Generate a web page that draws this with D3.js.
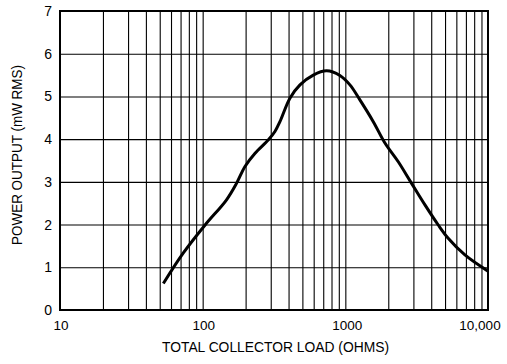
<!DOCTYPE html>
<html><head><meta charset="utf-8">
<script src="https://cdn.jsdelivr.net/npm/d3@7"></script>
<style>body{margin:0;background:#fff}svg{display:block}text{font-family:"Liberation Sans",Arial,sans-serif;fill:#000}</style>
</head><body><svg id="c" width="507" height="364"></svg>
<script>
const loadOhms = [53, 73, 104, 147, 173, 198, 233, 288, 321, 348, 409, 481, 596, 740, 916, 1077, 1265, 1570, 1895, 2350, 2870, 3615, 4480, 5260, 6890, 10000];
const powerMw  = [0.62, 1.33, 1.99, 2.58, 2.97, 3.36, 3.67, 3.98, 4.18, 4.41, 4.96, 5.27, 5.50, 5.60, 5.49, 5.27, 4.92, 4.41, 3.91, 3.47, 3.0, 2.46, 1.99, 1.68, 1.29, 0.91];
const yTicks = [0, 1, 2, 3, 4, 5, 6, 7];
const xTickValues = [10, 100, 1000, 10000];
const xTickLabels = ["10", "100", "1000", "10,000"];
const xTitle = "TOTAL COLLECTOR LOAD (OHMS)";
const yTitle = "POWER OUTPUT (mW RMS)";

const svg = d3.select("#c");
const L = 60, R = 488, T = 11, B = 310;
const x = d3.scaleLog().domain([10, 10000]).range([L, R]);
const y = d3.scaleLinear().domain([0, 7]).range([B, T]);

// vertical grid (every 1-9 per decade)
const minor = [];
for (let d = 10; d < 10000; d *= 10) for (let k = 1; k <= 9; k++) if (d * k > 10) minor.push(d * k);
svg.append("g").attr("transform", `translate(0,${B})`)
  .call(d3.axisBottom(x).tickValues(minor).tickSize(-(B - T)).tickFormat(""))
  .call(g => g.select(".domain").remove())
  .call(g => g.selectAll("line").attr("stroke", "#000").attr("stroke-width", 1.1));

// horizontal grid
svg.append("g").attr("transform", `translate(${L},0)`)
  .call(d3.axisLeft(y).tickValues(yTicks).tickSize(-(R - L)).tickFormat(""))
  .call(g => g.select(".domain").remove())
  .call(g => g.selectAll("line").attr("stroke", "#000").attr("stroke-width", 1.1));

// frame
svg.append("rect").attr("x", L).attr("y", T).attr("width", R - L).attr("height", B - T)
  .attr("fill", "none").attr("stroke", "#000").attr("stroke-width", 2);

// y tick labels
svg.append("g").selectAll("text").data(yTicks).join("text")
  .attr("x", L - 8).attr("y", d => y(d) + 5).attr("text-anchor", "end")
  .attr("font-size", 14).text(d => d);

// x tick labels
svg.append("g").selectAll("text").data(xTickValues).join("text")
  .attr("x", (d, i) => x(d) + (i === 3 ? -8 : (i === 2 ? 2 : 1)))
  .attr("y", 330).attr("text-anchor", "middle").attr("font-size", 13.5)
  .text((d, i) => xTickLabels[i]);

// titles
svg.append("text").attr("x", 275.5).attr("y", 352).attr("text-anchor", "middle")
  .attr("font-size", 14).attr("textLength", 227).attr("lengthAdjust", "spacingAndGlyphs").text(xTitle);
svg.append("text").attr("transform", "translate(22,155) rotate(-90)").attr("text-anchor", "middle")
  .attr("font-size", 14).attr("textLength", 180).attr("lengthAdjust", "spacingAndGlyphs").text(yTitle);

// curve
const line = d3.line().x((d, i) => x(loadOhms[i])).y(d => y(d)).curve(d3.curveCatmullRom.alpha(0.5));
svg.append("path").attr("d", line(powerMw)).attr("fill", "none").attr("stroke", "#000")
  .attr("stroke-width", 3).attr("stroke-linecap", "butt");
</script></body></html>
